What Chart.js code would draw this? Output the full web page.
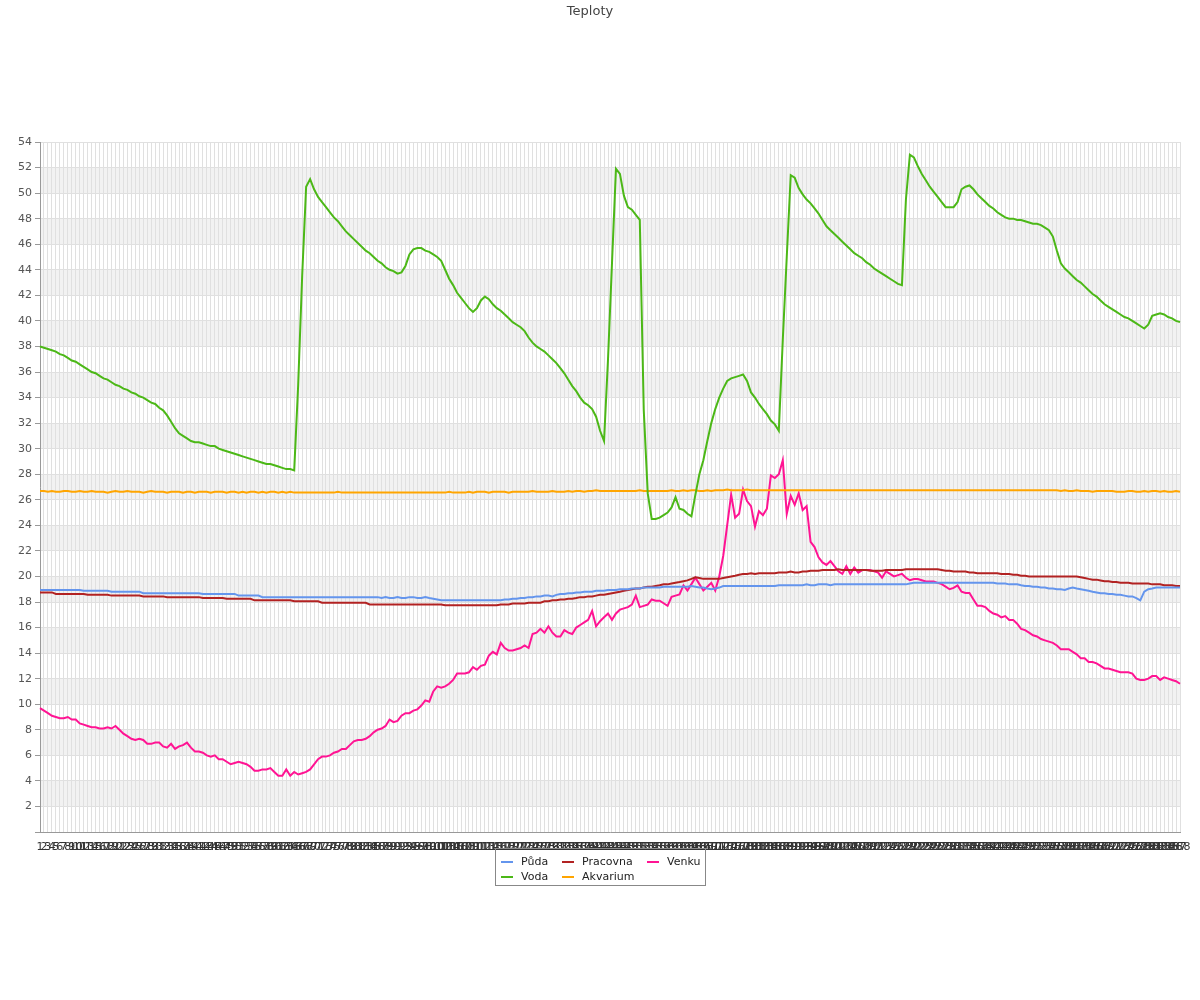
<!DOCTYPE html>
<html>
<head>
<meta charset="utf-8">
<title>Teploty</title>
<script src="https://cdn.jsdelivr.net/npm/chart.js@4.4.1/dist/chart.umd.min.js"></script>
<style>
  body { margin: 0; background: #fff; font-family: "DejaVu Sans", sans-serif; }
  #wrap { position: relative; width: 1200px; height: 1000px; }
  #legend {
    position: absolute; left: 495px; top: 848px; width: 211px; height: 38px;
    box-sizing: border-box; border: 1px solid #888; padding: 5px 0 0 5px;
    display: grid; grid-template-columns: 61px 85px auto; grid-auto-rows: 15px;
    font-size: 11px; color: #222;
  }
  #legend .item { display: flex; align-items: center; white-space: nowrap; }
  #legend .mark { display: inline-block; width: 12px; height: 2px; margin-right: 8px; }
</style>
</head>
<body>
<div id="wrap">
  <canvas id="chart" width="1200" height="1000"></canvas>
  <div id="legend"></div>
</div>
<script>
const labels = Array.from({ length: 288 }, (_, i) => String(i + 1));

// Půda
const puda = [
  18.94, 18.94, 18.94, 18.94, 18.94, 18.94, 18.94, 18.94, 18.94, 18.94, 18.94, 18.88,
  18.88, 18.88, 18.88, 18.88, 18.88, 18.88, 18.81, 18.81, 18.81, 18.81, 18.81, 18.81,
  18.81, 18.81, 18.69, 18.69, 18.69, 18.69, 18.69, 18.69, 18.69, 18.69, 18.69, 18.69,
  18.69, 18.69, 18.69, 18.69, 18.69, 18.63, 18.63, 18.63, 18.63, 18.63, 18.63, 18.63,
  18.63, 18.63, 18.5, 18.5, 18.5, 18.5, 18.5, 18.5, 18.38, 18.38, 18.38, 18.38,
  18.38, 18.38, 18.38, 18.38, 18.38, 18.38, 18.38, 18.38, 18.38, 18.38, 18.38, 18.38,
  18.38, 18.38, 18.38, 18.38, 18.38, 18.38, 18.38, 18.38, 18.38, 18.38, 18.38, 18.38,
  18.38, 18.38, 18.31, 18.38, 18.31, 18.31, 18.38, 18.31, 18.31, 18.38, 18.38, 18.31,
  18.31, 18.38, 18.31, 18.25, 18.19, 18.13, 18.13, 18.13, 18.13, 18.13, 18.13, 18.13,
  18.13, 18.13, 18.13, 18.13, 18.13, 18.13, 18.13, 18.13, 18.13, 18.19, 18.19, 18.25,
  18.25, 18.31, 18.31, 18.38, 18.38, 18.44, 18.44, 18.5, 18.5, 18.44, 18.56, 18.63,
  18.63, 18.69, 18.69, 18.75, 18.75, 18.81, 18.81, 18.81, 18.88, 18.88, 18.88, 18.94,
  18.94, 18.94, 19.0, 19.0, 19.0, 19.06, 19.06, 19.06, 19.13, 19.13, 19.13, 19.13,
  19.13, 19.19, 19.19, 19.19, 19.19, 19.19, 19.19, 19.19, 19.25, 19.19, 19.13, 19.13,
  19.06, 19.0, 19.06, 19.13, 19.25, 19.25, 19.25, 19.25, 19.25, 19.25, 19.25, 19.25,
  19.25, 19.25, 19.25, 19.25, 19.25, 19.25, 19.31, 19.31, 19.31, 19.31, 19.31, 19.31,
  19.31, 19.38, 19.31, 19.31, 19.38, 19.38, 19.38, 19.31, 19.38, 19.38, 19.38, 19.38,
  19.38, 19.38, 19.38, 19.38, 19.38, 19.38, 19.38, 19.38, 19.38, 19.38, 19.38, 19.38,
  19.38, 19.38, 19.38, 19.44, 19.5, 19.5, 19.5, 19.5, 19.5, 19.5, 19.5, 19.5,
  19.5, 19.5, 19.5, 19.5, 19.5, 19.5, 19.5, 19.5, 19.5, 19.5, 19.5, 19.5,
  19.5, 19.44, 19.44, 19.44, 19.38, 19.38, 19.38, 19.31, 19.25, 19.25, 19.19, 19.19,
  19.13, 19.13, 19.06, 19.06, 19.0, 19.0, 18.94, 19.06, 19.13, 19.06, 19.0, 18.94,
  18.88, 18.81, 18.75, 18.69, 18.69, 18.63, 18.63, 18.56, 18.56, 18.5, 18.44, 18.44,
  18.31, 18.13, 18.81, 19.0, 19.06, 19.13, 19.13, 19.13, 19.13, 19.13, 19.13, 19.13
];

// Voda
const voda = [
  38.0, 37.9, 37.8, 37.7, 37.6, 37.4, 37.3, 37.1, 36.9, 36.8, 36.6, 36.4,
  36.2, 36.0, 35.9, 35.7, 35.5, 35.4, 35.2, 35.0, 34.9, 34.7, 34.6, 34.4,
  34.3, 34.1, 34.0, 33.8, 33.6, 33.5, 33.2, 33.0, 32.6, 32.1, 31.6, 31.2,
  31.0, 30.8, 30.6, 30.5, 30.5, 30.4, 30.3, 30.2, 30.2, 30.0, 29.9, 29.8,
  29.7, 29.6, 29.5, 29.4, 29.3, 29.2, 29.1, 29.0, 28.9, 28.8, 28.8, 28.7,
  28.6, 28.5, 28.4, 28.4, 28.3, 35.0, 43.5, 50.5, 51.1, 50.3, 49.7, 49.3,
  48.9, 48.5, 48.1, 47.8, 47.4, 47.0, 46.7, 46.4, 46.1, 45.8, 45.5, 45.3,
  45.0, 44.7, 44.5, 44.2, 44.0, 43.9, 43.7, 43.8, 44.3, 45.2, 45.6, 45.7,
  45.7, 45.5, 45.4, 45.2, 45.0, 44.7, 44.0, 43.3, 42.8, 42.2, 41.8, 41.4,
  41.0, 40.7, 41.0, 41.6, 41.9, 41.7, 41.3, 41.0, 40.8, 40.5, 40.2, 39.9,
  39.7, 39.5, 39.2, 38.7, 38.3, 38.0, 37.8, 37.6, 37.3, 37.0, 36.7, 36.3,
  35.9, 35.4, 34.9, 34.5, 34.0, 33.6, 33.4, 33.1, 32.5, 31.4, 30.6, 37.0,
  44.5, 51.9, 51.5, 49.8, 48.9, 48.7, 48.3, 47.9, 33.0, 26.5, 24.5, 24.5,
  24.6, 24.8, 25.0, 25.4, 26.2, 25.3, 25.2, 24.9, 24.7, 26.4, 28.0, 29.1,
  30.6, 32.0, 33.1, 34.0, 34.7, 35.3, 35.5, 35.6, 35.7, 35.8, 35.3, 34.4,
  34.0, 33.5, 33.1, 32.7, 32.2, 31.9, 31.4, 38.5, 45.0, 51.4, 51.2, 50.4,
  49.9, 49.5, 49.2, 48.8, 48.4, 47.9, 47.4, 47.1, 46.8, 46.5, 46.2, 45.9,
  45.6, 45.3, 45.1, 44.9, 44.6, 44.4, 44.1, 43.9, 43.7, 43.5, 43.3, 43.1,
  42.9, 42.8, 49.5, 53.0, 52.8, 52.1, 51.5, 51.0, 50.5, 50.1, 49.7, 49.3,
  48.9, 48.9, 48.9, 49.3, 50.3, 50.5, 50.6, 50.3, 49.9, 49.6, 49.3, 49.0,
  48.8, 48.5, 48.3, 48.1, 48.0, 48.0, 47.9, 47.9, 47.8, 47.7, 47.6, 47.6,
  47.5, 47.3, 47.1, 46.6, 45.5, 44.5, 44.1, 43.8, 43.5, 43.2, 43.0, 42.7,
  42.4, 42.1, 41.9, 41.6, 41.3, 41.1, 40.9, 40.7, 40.5, 40.3, 40.2, 40.0,
  39.8, 39.6, 39.4, 39.7, 40.4, 40.5, 40.6, 40.5, 40.3, 40.2, 40.0, 39.9
];

// Pracovna
const pracovna = [
  18.75, 18.75, 18.75, 18.75, 18.63, 18.63, 18.63, 18.63, 18.63, 18.63, 18.63, 18.63,
  18.56, 18.56, 18.56, 18.56, 18.56, 18.56, 18.5, 18.5, 18.5, 18.5, 18.5, 18.5,
  18.5, 18.5, 18.44, 18.44, 18.44, 18.44, 18.44, 18.44, 18.38, 18.38, 18.38, 18.38,
  18.38, 18.38, 18.38, 18.38, 18.38, 18.31, 18.31, 18.31, 18.31, 18.31, 18.31, 18.25,
  18.25, 18.25, 18.25, 18.25, 18.25, 18.25, 18.13, 18.13, 18.13, 18.13, 18.13, 18.13,
  18.13, 18.13, 18.13, 18.13, 18.06, 18.06, 18.06, 18.06, 18.06, 18.06, 18.06, 17.94,
  17.94, 17.94, 17.94, 17.94, 17.94, 17.94, 17.94, 17.94, 17.94, 17.94, 17.94, 17.81,
  17.81, 17.81, 17.81, 17.81, 17.81, 17.81, 17.81, 17.81, 17.81, 17.81, 17.81, 17.81,
  17.81, 17.81, 17.81, 17.81, 17.81, 17.81, 17.75, 17.75, 17.75, 17.75, 17.75, 17.75,
  17.75, 17.75, 17.75, 17.75, 17.75, 17.75, 17.75, 17.75, 17.81, 17.81, 17.81, 17.88,
  17.88, 17.88, 17.88, 17.94, 17.94, 17.94, 17.94, 18.06, 18.06, 18.13, 18.13, 18.19,
  18.19, 18.25, 18.25, 18.31, 18.38, 18.38, 18.44, 18.44, 18.5, 18.56, 18.56, 18.63,
  18.69, 18.75, 18.81, 18.88, 18.94, 19.0, 19.06, 19.06, 19.13, 19.19, 19.19, 19.25,
  19.31, 19.38, 19.38, 19.44, 19.5, 19.56, 19.63, 19.69, 19.81, 19.94, 19.88, 19.81,
  19.81, 19.81, 19.81, 19.81, 19.88, 19.94, 20.0, 20.06, 20.13, 20.19, 20.19, 20.25,
  20.19, 20.25, 20.25, 20.25, 20.25, 20.25, 20.31, 20.31, 20.31, 20.38, 20.31, 20.31,
  20.38, 20.38, 20.44, 20.44, 20.44, 20.5, 20.5, 20.5, 20.5, 20.56, 20.5, 20.5,
  20.5, 20.5, 20.5, 20.5, 20.5, 20.44, 20.44, 20.44, 20.44, 20.5, 20.5, 20.5,
  20.5, 20.5, 20.56, 20.56, 20.56, 20.56, 20.56, 20.56, 20.56, 20.56, 20.56, 20.5,
  20.44, 20.44, 20.38, 20.38, 20.38, 20.38, 20.31, 20.31, 20.25, 20.25, 20.25, 20.25,
  20.25, 20.25, 20.19, 20.19, 20.19, 20.13, 20.13, 20.06, 20.06, 20.0, 20.0, 20.0,
  20.0, 20.0, 20.0, 20.0, 20.0, 20.0, 20.0, 20.0, 20.0, 20.0, 19.94, 19.88,
  19.81, 19.75, 19.75, 19.69, 19.63, 19.63, 19.56, 19.56, 19.5, 19.5, 19.5, 19.44,
  19.44, 19.44, 19.44, 19.44, 19.38, 19.38, 19.38, 19.31, 19.31, 19.31, 19.25, 19.25
];

// Akvarium
const akvarium = [
  26.69, 26.69, 26.63, 26.69, 26.63, 26.63, 26.69, 26.69, 26.63, 26.63, 26.69, 26.63,
  26.63, 26.69, 26.63, 26.63, 26.63, 26.56, 26.63, 26.69, 26.63, 26.63, 26.69, 26.63,
  26.63, 26.63, 26.56, 26.63, 26.69, 26.63, 26.63, 26.63, 26.56, 26.63, 26.63, 26.63,
  26.56, 26.63, 26.63, 26.56, 26.63, 26.63, 26.63, 26.56, 26.63, 26.63, 26.63, 26.56,
  26.63, 26.63, 26.56, 26.63, 26.56, 26.63, 26.63, 26.56, 26.63, 26.56, 26.63, 26.63,
  26.56, 26.63, 26.56, 26.63, 26.56, 26.56, 26.56, 26.56, 26.56, 26.56, 26.56, 26.56,
  26.56, 26.56, 26.56, 26.63, 26.56, 26.56, 26.56, 26.56, 26.56, 26.56, 26.56, 26.56,
  26.56, 26.56, 26.56, 26.56, 26.56, 26.56, 26.56, 26.56, 26.56, 26.56, 26.56, 26.56,
  26.56, 26.56, 26.56, 26.56, 26.56, 26.56, 26.56, 26.63, 26.56, 26.56, 26.56, 26.56,
  26.63, 26.56, 26.63, 26.63, 26.63, 26.56, 26.63, 26.63, 26.63, 26.63, 26.56, 26.63,
  26.63, 26.63, 26.63, 26.63, 26.69, 26.63, 26.63, 26.63, 26.63, 26.69, 26.63, 26.63,
  26.63, 26.69, 26.63, 26.69, 26.69, 26.63, 26.69, 26.69, 26.75, 26.69, 26.69, 26.69,
  26.69, 26.69, 26.69, 26.69, 26.69, 26.69, 26.69, 26.75, 26.69, 26.69, 26.69, 26.69,
  26.69, 26.69, 26.69, 26.75, 26.69, 26.69, 26.75, 26.69, 26.75, 26.75, 26.69, 26.69,
  26.75, 26.69, 26.75, 26.75, 26.75, 26.81, 26.75, 26.75, 26.75, 26.75, 26.81, 26.75,
  26.75, 26.75, 26.75, 26.75, 26.75, 26.75, 26.75, 26.75, 26.75, 26.75, 26.75, 26.75,
  26.75, 26.75, 26.75, 26.75, 26.75, 26.75, 26.75, 26.75, 26.75, 26.75, 26.75, 26.75,
  26.75, 26.75, 26.75, 26.75, 26.75, 26.75, 26.75, 26.75, 26.75, 26.75, 26.75, 26.75,
  26.75, 26.75, 26.75, 26.75, 26.75, 26.75, 26.75, 26.75, 26.75, 26.75, 26.75, 26.75,
  26.75, 26.75, 26.75, 26.75, 26.75, 26.75, 26.75, 26.75, 26.75, 26.75, 26.75, 26.75,
  26.75, 26.75, 26.75, 26.75, 26.75, 26.75, 26.75, 26.75, 26.75, 26.75, 26.75, 26.75,
  26.75, 26.75, 26.75, 26.75, 26.75, 26.69, 26.75, 26.69, 26.69, 26.75, 26.69, 26.69,
  26.69, 26.63, 26.69, 26.69, 26.69, 26.69, 26.69, 26.63, 26.63, 26.63, 26.69, 26.69,
  26.63, 26.63, 26.69, 26.63, 26.69, 26.69, 26.63, 26.69, 26.63, 26.63, 26.69, 26.63
];

// Venku
const venku = [
  9.7, 9.5, 9.3, 9.1, 9.0, 8.9, 8.9, 9.0, 8.8, 8.8, 8.5, 8.4,
  8.3, 8.2, 8.2, 8.1, 8.1, 8.2, 8.1, 8.3, 8.0, 7.7, 7.5, 7.3,
  7.2, 7.3, 7.2, 6.9, 6.9, 7.0, 7.0, 6.7, 6.6, 6.9, 6.5, 6.7,
  6.8, 7.0, 6.6, 6.3, 6.3, 6.2, 6.0, 5.9, 6.0, 5.7, 5.7, 5.5,
  5.3, 5.4, 5.5, 5.4, 5.3, 5.1, 4.8, 4.8, 4.9, 4.9, 5.0, 4.7,
  4.4, 4.4, 4.9, 4.4, 4.7, 4.5, 4.6, 4.7, 4.9, 5.3, 5.7, 5.9,
  5.9, 6.0, 6.2, 6.3, 6.5, 6.5, 6.8, 7.1, 7.2, 7.2, 7.3, 7.5,
  7.8, 8.0, 8.1, 8.3, 8.8, 8.6, 8.7, 9.1, 9.3, 9.3, 9.5, 9.6,
  9.9, 10.3, 10.2, 11.0, 11.4, 11.3, 11.4, 11.6, 11.9, 12.4, 12.4, 12.4,
  12.5, 12.9, 12.7, 13.0, 13.1, 13.8, 14.1, 13.9, 14.8, 14.4, 14.2, 14.2,
  14.3, 14.4, 14.6, 14.4, 15.5, 15.6, 15.9, 15.6, 16.1, 15.6, 15.3, 15.3,
  15.8, 15.6, 15.5, 16.0, 16.2, 16.4, 16.6, 17.3, 16.1, 16.5, 16.8, 17.1,
  16.6, 17.1, 17.4, 17.5, 17.6, 17.8, 18.5, 17.6, 17.7, 17.8, 18.2, 18.1,
  18.1, 17.9, 17.7, 18.4, 18.5, 18.6, 19.3, 18.9, 19.4, 19.9, 19.4, 18.9,
  19.2, 19.5, 18.9, 20.0, 21.6, 24.0, 26.4, 24.6, 24.9, 26.8, 25.9, 25.5,
  23.9, 25.1, 24.8, 25.3, 27.9, 27.7, 28.0, 29.1, 24.9, 26.3, 25.6, 26.5,
  25.2, 25.5, 22.7, 22.3, 21.5, 21.1, 20.9, 21.2, 20.8, 20.4, 20.2, 20.8,
  20.2, 20.7, 20.3, 20.5, 20.5, 20.5, 20.4, 20.3, 19.9, 20.4, 20.2, 20.0,
  20.1, 20.2, 19.9, 19.7, 19.8, 19.8, 19.7, 19.6, 19.6, 19.6, 19.5, 19.4,
  19.2, 19.0, 19.1, 19.3, 18.8, 18.7, 18.7, 18.2, 17.7, 17.7, 17.6, 17.3,
  17.1, 17.0, 16.8, 16.9, 16.6, 16.6, 16.3, 15.9, 15.8, 15.6, 15.4, 15.3,
  15.1, 15.0, 14.9, 14.8, 14.6, 14.3, 14.3, 14.3, 14.1, 13.9, 13.6, 13.6,
  13.3, 13.3, 13.2, 13.0, 12.8, 12.8, 12.7, 12.6, 12.5, 12.5, 12.5, 12.4,
  12.0, 11.9, 11.9, 12.0, 12.2, 12.2, 11.9, 12.1, 12.0, 11.9, 11.8, 11.6
];

const seriesNames = ['Půda', 'Voda', 'Pracovna', 'Akvarium', 'Venku'];
const seriesData = [puda, voda, pracovna, akvarium, venku];
const seriesColors = ['#6495ed', '#4cb817', '#b22222', '#ffa500', '#ff1493'];

// grey stripes every other 2 degrees (2-4, 6-8, ... 50-52)
const bands = {
    id: 'bands',
    beforeDraw(chart) {
        const { ctx, chartArea, scales } = chart;
        const y = scales.y;
        ctx.save();
        ctx.fillStyle = '#f2f2f2';
        for (let v = 2; v < 54; v += 4) {
            const top = y.getPixelForValue(v + 2);
            const bottom = y.getPixelForValue(v);
            ctx.fillRect(chartArea.left, top, chartArea.right - chartArea.left, bottom - top);
        }
        ctx.restore();
    }
};

const ctx = document.getElementById('chart');

const chart = new Chart(ctx, {
    type: 'line',
    data: {
        labels: labels,
        datasets: seriesNames.map((name, i) => ({
            label: name,
            data: seriesData[i],
            borderColor: seriesColors[i],
            backgroundColor: seriesColors[i],
            borderWidth: 2,
            pointRadius: 0,
            tension: 0,
            fill: false
        }))
    },
    options: {
        responsive: false,
        animation: false,
        devicePixelRatio: 1,
        layout: {
            padding: { top: 0, left: 0, right: 20, bottom: 138 }
        },
        plugins: {
            legend: { display: false },
            tooltip: { enabled: false },
            title: {
                display: true,
                text: 'Teploty',
                color: '#444',
                font: { family: 'DejaVu Sans', size: 13, weight: 'normal' },
                padding: { top: 4, bottom: 122.4 }
            }
        },
        scales: {
            x: {
                offset: false,
                border: { color: '#999' },
                grid: { color: '#e0e0e0', drawTicks: false },
                ticks: {
                    autoSkip: false,
                    maxRotation: 0,
                    minRotation: 0,
                    padding: 9,
                    color: '#333',
                    font: { family: 'DejaVu Sans', size: 11 }
                },
                afterFit(scale) { scale.height = 30; }
            },
            y: {
                min: 0,
                max: 54,
                border: { color: '#999' },
                grid: {
                    color: c => (c.tick && c.tick.value % 2 === 0) ? '#e0e0e0' : 'rgba(0,0,0,0)',
                    tickColor: '#999',
                    tickLength: 5
                },
                ticks: {
                    stepSize: 1,
                    padding: 3,
                    color: '#555',
                    font: { family: 'DejaVu Sans', size: 11 },
                    callback: v => (v % 2 === 0 && v !== 0) ? v : ''
                },
                afterFit(scale) { scale.width = 40; }
            }
        }
    },
    plugins: [bands]
});

// legend below the axis, three columns in a box
const legendBox = document.getElementById('legend');
const legendOrder = [0, 2, 4, 1, 3];
legendOrder.forEach(i => {
    const ds = chart.data.datasets[i];
    const item = document.createElement('div');
    item.className = 'item';
    const mark = document.createElement('span');
    mark.className = 'mark';
    mark.style.background = ds.borderColor;
    item.appendChild(mark);
    item.appendChild(document.createTextNode(ds.label));
    legendBox.appendChild(item);
});
</script>
</body>
</html>
